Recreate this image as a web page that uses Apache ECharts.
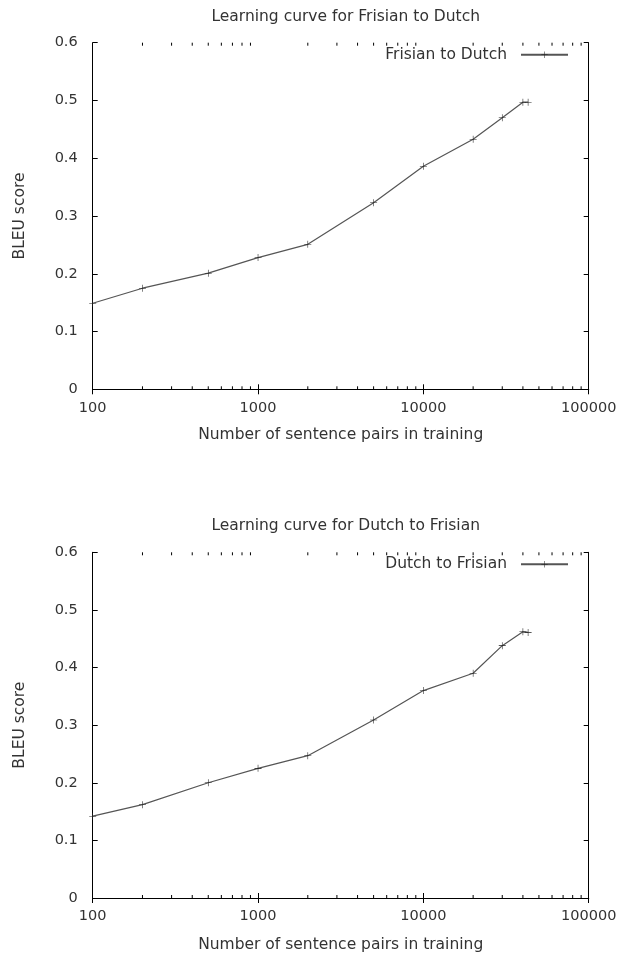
<!DOCTYPE html>
<html>
<head>
<meta charset="utf-8">
<title>Learning curves</title>
<script src="https://cdn.jsdelivr.net/npm/echarts@6/dist/echarts.min.js"></script>
<style>
  html, body { margin: 0; padding: 0; background: #fff; }
  #main { width: 621px; height: 954px; }
</style>
</head>
<body>
<div id="main"></div>
<script>
// training set sizes (sentence pairs)
const trainSizes = [100, 200, 500, 1000, 2000, 5000, 10000, 20000, 30000, 40000, 43000]
// BLEU scores
const frisianToDutch = [0.149, 0.175, 0.201, 0.228, 0.251, 0.323, 0.386, 0.433, 0.470, 0.497, 0.497]
const dutchToFrisian = [0.142, 0.162, 0.200, 0.225, 0.247, 0.309, 0.360, 0.390, 0.438, 0.462, 0.461]
const chartTitles = ['Learning curve for Frisian to Dutch', 'Learning curve for Dutch to Frisian']
const seriesNames = ['Frisian to Dutch', 'Dutch to Frisian']
// gnuplot style minor ticks on the log axis
const minorTickValues = [200, 300, 400, 500, 600, 700, 800, 900,
  2000, 3000, 4000, 5000, 6000, 7000, 8000, 9000,
  20000, 30000, 40000, 50000, 60000, 70000, 80000, 90000]

const font = 'DejaVu Sans'
const textColor = '#333'
const lineColor = '#555'
const crossPath = 'path://M4.6,0h0.8v4.6h4.6v0.8h-4.6v4.6h-0.8v-4.6h-4.6v-0.8h4.6z'

const grids = [
  { left: 92.7, top: 42.7, width: 496, height: 346.6 },
  { left: 92.7, top: 552.3, width: 496, height: 346 },
]

const myChart = echarts.init(document.getElementById('main'), null, { renderer: 'canvas' })

let xAxis = [], yAxis = [], series = [], title = [], legend = []
const allData = [frisianToDutch, dutchToFrisian]

grids.forEach((g, i) => {
  title.push({
    text: chartTitles[i],
    left: g.left + g.width / 2,
    top: g.top - 39,
    textAlign: 'center',
    textStyle: { fontFamily: font, fontSize: 15.5, fontWeight: 'normal', color: textColor },
  })
  legend.push({
    data: [seriesNames[i]],
    right: 47,
    top: g.top - 1,
    align: 'right',
    itemWidth: 47,
    itemHeight: 8,
    textStyle: { fontFamily: font, fontSize: 15.5, color: textColor, padding: [0, 9, 0, 0] },
    selectedMode: false,
  })
  const axisLine = { show: true, lineStyle: { color: '#000', width: 1 } }
  const tick = { show: true, inside: true, length: 5, lineStyle: { color: '#000' } }
  xAxis.push({
    type: 'log', logBase: 10, min: 100, max: 100000, gridIndex: i,
    axisLine, axisTick: tick,
    axisLabel: { fontFamily: font, fontSize: 14.5, color: textColor, margin: 11, formatter: v => String(v) },
    splitLine: { show: false },
    name: 'Number of sentence pairs in training',
    nameLocation: 'middle', nameGap: i === 0 ? 38 : 39,
    nameTextStyle: { fontFamily: font, fontSize: 15.5, color: textColor },
  })
  xAxis.push({
    type: 'log', logBase: 10, min: 100, max: 100000, gridIndex: i, position: 'top',
    axisLine, axisTick: tick, axisLabel: { show: false }, splitLine: { show: false },
  })
  yAxis.push({
    type: 'value', min: 0, max: 0.6, interval: 0.1, gridIndex: i,
    axisLine, axisTick: tick,
    axisLabel: {
      fontFamily: font, fontSize: 14.5, color: textColor, margin: 15,
      formatter: v => v === 0 ? '0' : v.toFixed(1),
    },
    splitLine: { show: false },
    name: 'BLEU score', nameLocation: 'middle', nameRotate: 90, nameGap: 65,
    nameTextStyle: { fontFamily: font, fontSize: 15.5, color: textColor },
  })
  yAxis.push({
    type: 'value', min: 0, max: 0.6, interval: 0.1, gridIndex: i, position: 'right',
    axisLine, axisTick: tick, axisLabel: { show: false }, splitLine: { show: false },
  })

  series.push({
    name: seriesNames[i],
    type: 'line',
    xAxisIndex: i * 2, yAxisIndex: i * 2,
    data: trainSizes.map((n, k) => [n, allData[i][k]]),
    symbol: crossPath,
    symbolSize: 7,
    showAllSymbol: true,
    lineStyle: { color: lineColor, width: 1.2 },
    itemStyle: { color: '#222' },
    animation: false,
  })
  // minor ticks on bottom and top edges
  series.push({
    type: 'custom',
    xAxisIndex: i * 2, yAxisIndex: i * 2,
    data: minorTickValues.map(v => [v]),
    silent: true,
    animation: false,
    renderItem: (params, api) => {
      const b = api.coord([api.value(0), 0])
      const t = api.coord([api.value(0), 0.6])
      const style = { stroke: '#000', lineWidth: 1 }
      return {
        type: 'group',
        children: [
          { type: 'line', shape: { x1: b[0], y1: b[1], x2: b[0], y2: b[1] - 3 }, style },
          { type: 'line', shape: { x1: t[0], y1: t[1], x2: t[0], y2: t[1] + 3 }, style },
        ],
      }
    },
  })
})

myChart.setOption({
  backgroundColor: '#fff',
  animation: false,
  title,
  legend,
  grid: grids,
  xAxis,
  yAxis,
  series,
})
</script>
</body>
</html>
